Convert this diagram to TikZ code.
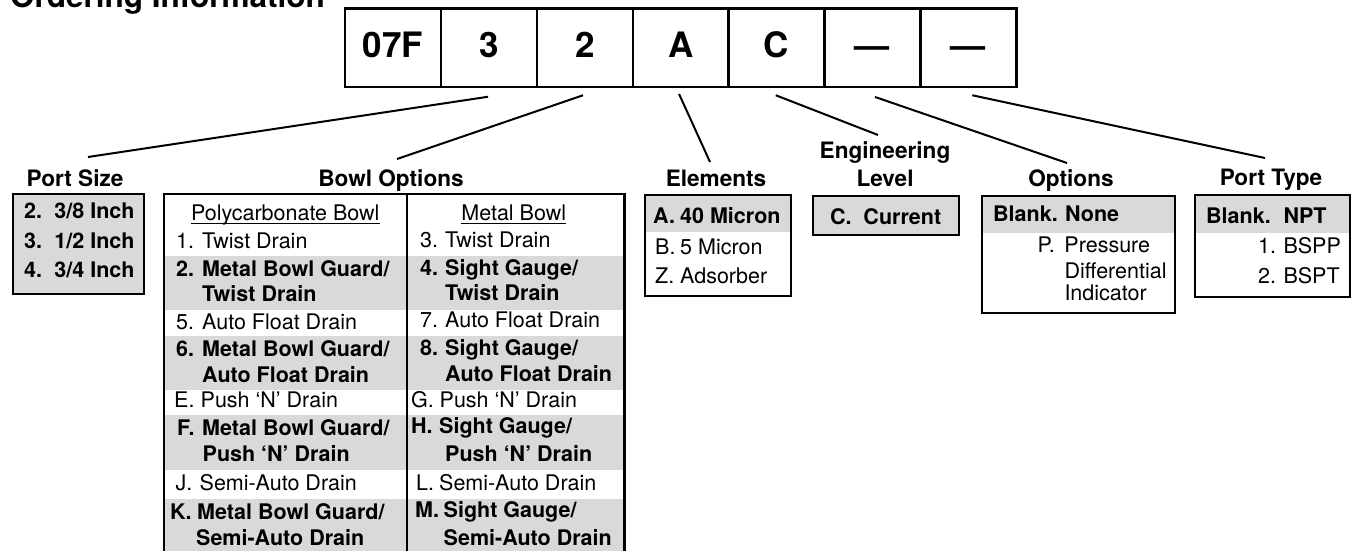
\documentclass[tikz,border=0pt]{standalone}
\usepackage{fontspec}
\setmainfont{TeX Gyre Heros}
\newcommand{\lb}[2]{\makebox[#1][l]{#2}}
\begin{document}
\begin{tikzpicture}[x=1pt,y=-1pt,
  box/.style={draw, line width=2.4pt, inner sep=0pt, anchor=north west},
  shade/.style={fill=black!15},
  conn/.style={line width=2pt},
  cell/.style={draw, line width=2.4pt, minimum width=95.9pt, minimum height=78.6pt, inner sep=0pt,
    text height=25pt, text depth=6pt, font=\fontsize{35}{40}\selectfont\bfseries},
  txt/.style={anchor=base west, inner sep=0pt, font=\fontsize{21.5}{26}\selectfont},
  btxt/.style={anchor=base west, inner sep=0pt, font=\fontsize{21.5}{26}\selectfont\bfseries},
  ctxt/.style={anchor=base, inner sep=0pt, font=\fontsize{21.5}{26}\selectfont},
  ttl/.style={anchor=base, inner sep=0pt, font=\fontsize{22.6}{27}\selectfont\bfseries},
  uline/.style={line width=1.1pt}
]
\useasboundingbox (0,0) rectangle (1351,550);

% main title
\node[anchor=base west, inner sep=0pt, font=\fontsize{31.5}{36}\selectfont\bfseries] (title) at (10,7.5) {Ordering Information};

% code cells
\node[cell] (c1) at (392.95,47.75) {07F};
\node[cell] (c2) at (488.85,47.75) {3};
\node[cell] (c3) at (584.75,47.75) {2};
\node[cell] (c4) at (680.65,47.75) {A};
\node[cell] (c5) at (776.55,47.75) {C};
\node[cell] (c6) at (872.45,47.75) {---};
\node[cell] (c7) at (968.35,47.75) {---};

% connector free ends
\coordinate (psE) at (88,157);
\coordinate (boE) at (397,159);
\coordinate (elE) at (710,162);
\coordinate (enE) at (878,135);
\coordinate (opE) at (1067,163);
\coordinate (ptE) at (1265,158);
\draw[conn] ([shift={(-0.8pt,-8.5pt)}]c2.south) -- (psE);
\draw[conn] ([shift={(-1.7pt,-7pt)}]c3.south) -- (boE);
\draw[conn] ([shift={(-1.6pt,-5.7pt)}]c4.south) -- (elE);
\draw[conn] ([shift={(-0.8pt,-7pt)}]c5.south) -- (enE);
\draw[conn] ([shift={(2.5pt,-8.7pt)}]c6.south) -- (opE);
\draw[conn] ([shift={(3.9pt,-7pt)}]c7.south) -- (ptE);

% titles
\node[ttl] (tps) at (75,186) {Port Size};
\node[ttl] (tbo) at (391,186) {Bowl Options};
\node[ttl] (tel) at (716,186.5) {Elements};
\node[ttl] (ten1) at (885,158.3) {Engineering};
\node[ttl] (ten2) at (885,186.5) {Level};
\node[ttl] (top) at (1071,186) {Options};
\node[ttl] (tpt) at (1271,185.5) {Port Type};

% Port Size box
\node[box, shade, minimum width=131pt, minimum height=100.3pt] (psbox) at (12,192.7) {};
\node[btxt] (ps1) at (24,218.3) {\lb{30.3pt}{2.}3/8 Inch};
\node[btxt] (ps2) at (24,248.3) {\lb{30.3pt}{3.}1/2 Inch};
\node[btxt] (ps3) at (24,277.7) {\lb{30.3pt}{4.}3/4 Inch};

% Bowl Options box
\fill[shade] (163,256) rectangle (623.3,309.5);
\fill[shade] (163,336) rectangle (623.3,390);
\fill[shade] (163,415) rectangle (623.3,470);
\fill[shade] (163,499) rectangle (623.3,565);
\node[box, minimum width=460.3pt, minimum height=372pt] (bobox) at (163,193) {};
\coordinate (divT) at (406.7,193);
\coordinate (divB) at (406.7,565);
\draw[line width=2.4pt] (divT) -- (divB);

\node[ctxt] (hpc) at (285.3,220.5) {Polycarbonate Bowl};
\draw[uline] ([yshift=-2.6pt]hpc.base west) -- ([yshift=-2.6pt]hpc.base east);
\node[ctxt] (hmb) at (513.7,220.5) {Metal Bowl};
\draw[uline] ([yshift=-2.6pt]hmb.base west) -- ([yshift=-2.6pt]hmb.base east);

% left column
\node[txt] (l1) at (176,248) {\lb{26pt}{1.}Twist Drain};
\node[btxt] (l2a) at (176,276) {\lb{26pt}{2.}Metal Bowl Guard/};
\node[btxt] (l2b) at (202,301.5) {Twist Drain};
\node[txt] (l5) at (176,329) {\lb{26pt}{5.}Auto Float Drain};
\node[btxt] (l6a) at (176,356.5) {\lb{26pt}{6.}Metal Bowl Guard/};
\node[btxt] (l6b) at (202,382) {Auto Float Drain};
\node[txt] (lE) at (174,407.3) {\lb{26.5pt}{E.}Push ‘N’ Drain};
\node[btxt] (lFa) at (177,435) {\lb{25pt}{F.}Metal Bowl Guard/};
\node[btxt] (lFb) at (202.5,461.5) {Push ‘N’ Drain};
\node[txt] (lJ) at (175.5,490.5) {\lb{24pt}{J.}Semi-Auto Drain};
\node[btxt] (lKa) at (170,519) {\lb{27pt}{K.}Metal Bowl Guard/};
\node[btxt] (lKb) at (196,545) {Semi-Auto Drain};

% right column
\node[txt] (r3) at (420,247.5) {\lb{25pt}{3.}Twist Drain};
\node[btxt] (r4a) at (420,275.5) {\lb{25pt}{4.}Sight Gauge/};
\node[btxt] (r4b) at (445,300.5) {Twist Drain};
\node[txt] (r7) at (420,327.5) {\lb{25pt}{7.}Auto Float Drain};
\node[btxt] (r8a) at (420,355.5) {\lb{25pt}{8.}Sight Gauge/};
\node[btxt] (r8b) at (445,381) {Auto Float Drain};
\node[txt] (rG) at (411,407) {\lb{28.5pt}{G.}Push ‘N’ Drain};
\node[btxt] (rHa) at (411,433.5) {\lb{28pt}{H.}Sight Gauge/};
\node[btxt] (rHb) at (445,461.5) {Push ‘N’ Drain};
\node[txt] (rL) at (416,490) {\lb{23pt}{L.}Semi-Auto Drain};
\node[btxt] (rMa) at (415,517) {\lb{28.5pt}{M.}Sight Gauge/};
\node[btxt] (rMb) at (443.5,545) {Semi-Auto Drain};

% Elements box
\fill[shade] (644,194) rectangle (790,232);
\node[box, minimum width=146pt, minimum height=101pt] (elbox) at (644,194) {};
\node[btxt] (elA) at (653,223.3) {\lb{27pt}{A.}40 Micron};
\node[txt] (elB) at (655,254) {\lb{25pt}{B.}5 Micron};
\node[txt] (elZ) at (655,283.3) {\lb{25pt}{Z.}Adsorber};

% Engineering Level box
\node[box, shade, minimum width=146pt, minimum height=39pt] (enbox) at (812,195) {};
\node[btxt] (enC) at (830,224) {\lb{33.3pt}{C.}Current};

% Options box
\fill[shade] (981,195) rectangle (1174,233);
\node[box, minimum width=193pt, minimum height=117pt] (opbox) at (981,195) {};
\node[btxt] (opB) at (993,221.7) {\lb{72pt}{Blank.}None};
\node[txt] (opP1) at (1037.3,252.7) {\lb{27pt}{P.}Pressure};
\node[txt] (opP2) at (1064.3,278.3) {Differential};
\node[txt] (opP3) at (1064.3,300.7) {Indicator};

% Port Type box
\fill[shade] (1194,194) rectangle (1349,233);
\node[box, minimum width=155pt, minimum height=102pt] (ptbox) at (1194,194) {};
\node[btxt] (ptB) at (1206,223.3) {\lb{77.3pt}{Blank.}NPT};
\node[txt] (pt1) at (1258,253.3) {\lb{25.3pt}{1.}BSPP};
\node[txt] (pt2) at (1258,283.3) {\lb{25.3pt}{2.}BSPT};
\end{tikzpicture}
\end{document}
